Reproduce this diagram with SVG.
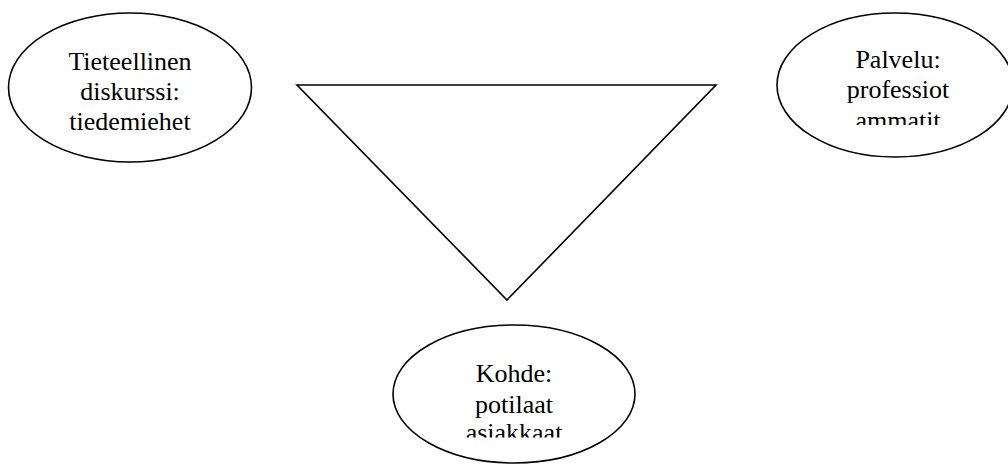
<svg xmlns="http://www.w3.org/2000/svg" width="1008" height="466" viewBox="0 0 1008 466">
<style>
.shape{fill:#fff;stroke:#000;stroke-width:1.6}
.lbl{font-family:"Liberation Serif","Times New Roman",serif;font-size:26px;fill:#000;text-anchor:middle}
</style>
<defs>
<clipPath id="c1"><rect x="40" y="30" width="180" height="101"/></clipPath>
<clipPath id="c2"><rect x="800" y="30" width="190" height="95"/></clipPath>
<clipPath id="c3"><rect x="420" y="340" width="190" height="97.5"/></clipPath>
</defs>
<rect width="1008" height="466" fill="#fff"/>
<g id="connectors">
<polygon class="shape" points="297,85 716,85 507,300" stroke-width="1.8"/>
</g>
<g id="node-tieteellinen">
<ellipse class="shape" cx="130" cy="87.5" rx="121.5" ry="74.5"/>
<g clip-path="url(#c1)">
<text class="lbl" x="130" y="70">Tieteellinen</text>
<text class="lbl" x="130" y="100">diskurssi:</text>
<text class="lbl" x="130" y="130">tiedemiehet</text>
</g>
</g>
<g id="node-palvelu">
<ellipse class="shape" cx="895" cy="85" rx="118" ry="72"/>
<g clip-path="url(#c2)">
<text class="lbl" x="898" y="67.5">Palvelu:</text>
<text class="lbl" x="898" y="98">professiot</text>
<text class="lbl" x="898" y="128.5">ammatit</text>
</g>
</g>
<g id="node-kohde">
<ellipse class="shape" cx="514" cy="394" rx="121" ry="69"/>
<g clip-path="url(#c3)">
<text class="lbl" x="514" y="381.5">Kohde:</text>
<text class="lbl" x="514" y="412.5">potilaat</text>
<text class="lbl" x="514" y="441">asiakkaat</text>
</g>
</g>
</svg>
